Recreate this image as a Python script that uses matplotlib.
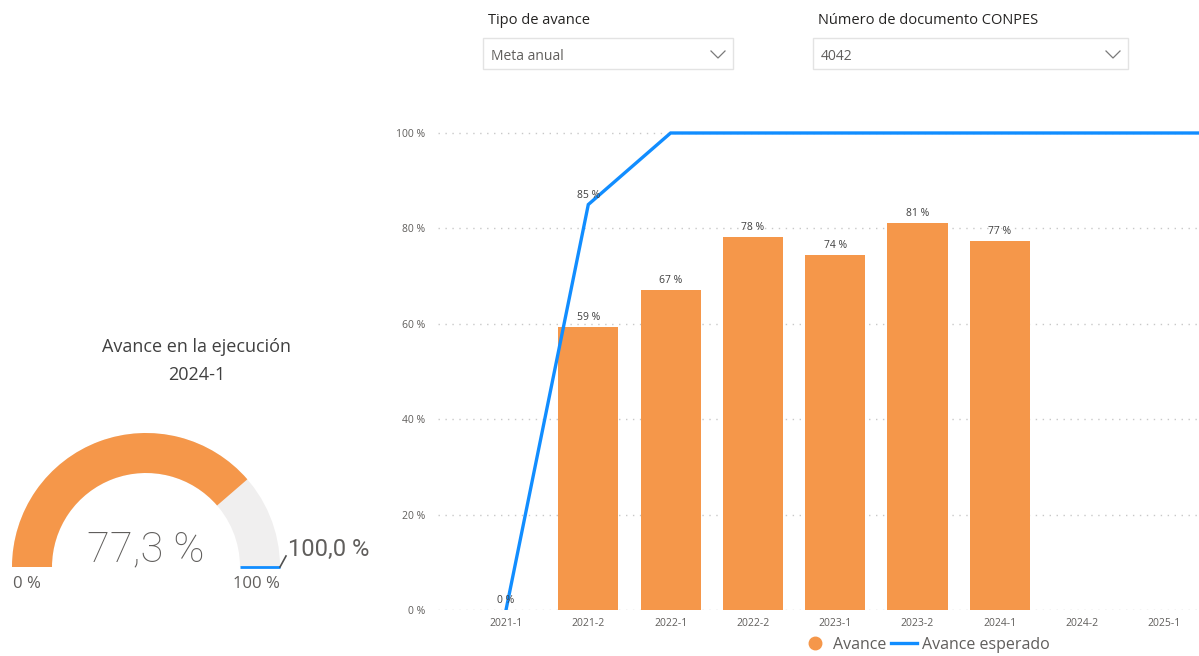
import matplotlib
matplotlib.use("Agg")
import matplotlib.pyplot as plt
from matplotlib.patches import Wedge, Rectangle
from matplotlib.lines import Line2D
import numpy as np

# data
periodos = ["2021-1", "2021-2", "2022-1", "2022-2", "2023-1", "2023-2", "2024-1", "2024-2", "2025-1", "2025-2"]
avance = [None, 59.3, 67.1, 78.2, 74.4, 81.1, 77.4, None, None, None]
avance_esperado = [0, 85, 100, 100, 100, 100, 100, 100, 100, 100]
etiquetas_esperado = ["0 %", "85 %"]  # only the first two points are labelled
gauge_valor = 77.3
gauge_min = 0
gauge_max = 100
gauge_meta = 100
gauge_periodo = "2024-1"

ORANGE = "#F5974A"
BLUE = "#118DFF"
GREY_TXT = "#605E5C"
DARK_TXT = "#252423"

plt.rcParams["font.family"] = ["Open Sans", "DejaVu Sans"]

W, H = 1199, 656
fig = plt.figure(figsize=(W / 100, H / 100), dpi=100)

# background axes in pixel units (y measured from the top)
bg = fig.add_axes([0, 0, 1, 1])
bg.set_xlim(0, W)
bg.set_ylim(0, H)
bg.axis("off")

def py(y):
    return H - y

# --- slicers at the top ---
def slicer(x0, x1, titulo, valor):
    bg.text(x0 + 5, py(21), titulo, fontsize=10.5, color=DARK_TXT, va="center", ha="left")
    bg.add_patch(Rectangle((x0, py(69)), x1 - x0, 31, facecolor="white", edgecolor="#E3E3E3", lw=1))
    bg.text(x0 + 8, py(56), valor, fontsize=10, color=GREY_TXT, va="center", ha="left")
    cx = x1 - 15
    bg.plot([cx - 7, cx, cx + 7], [py(51), py(58), py(51)], color="#7A7A7A", lw=0.9)

slicer(483, 733, "Tipo de avance", "Meta anual")
slicer(813, 1128, "Número de documento CONPES", "4042")

# --- gauge ---
cx, cy = 146, 567
r_out, r_in = 134, 94
ang = 180 - (gauge_valor - gauge_min) / (gauge_max - gauge_min) * 180
bg.add_patch(Wedge((cx, py(cy)), r_out, 0, 180, width=r_out - r_in, facecolor="#F0EFEF", edgecolor="none"))
bg.add_patch(Wedge((cx, py(cy)), r_out, ang, 180, width=r_out - r_in, facecolor=ORANGE, edgecolor="none"))
meta_ang = 180 - (gauge_meta - gauge_min) / (gauge_max - gauge_min) * 180
t = np.deg2rad(meta_ang)
bg.plot([cx + r_in * np.cos(t), cx + r_out * np.cos(t)],
        [py(cy) + r_in * np.sin(t), py(cy) + r_out * np.sin(t)], color=BLUE, lw=2, solid_capstyle="butt")
bg.plot([cx + r_out, cx + r_out + 6], [py(cy), py(cy) + 11], color="#505050", lw=1.2)
bg.text(cx + r_out + 8, py(cy) + 11, f"{gauge_meta:.1f} %".replace(".", ","), fontsize=17,
        color=GREY_TXT, ha="left", va="baseline", family=["Roboto", "DejaVu Sans"])
bg.text(cx, py(cy) + 6, f"{gauge_valor:.1f} %".replace(".", ","), fontsize=30, color=GREY_TXT,
        ha="center", va="baseline", family=["Roboto", "DejaVu Sans"], fontweight="light")
bg.text(13, py(584), f"{gauge_min} %", fontsize=12, color=GREY_TXT, ha="left", va="center")
bg.text(cx + 110, py(584), f"{gauge_max} %", fontsize=12, color=GREY_TXT, ha="center", va="center")
bg.text(197, py(347), "Avance en la ejecución", fontsize=13, color="#404040", ha="center", va="center")
bg.text(197, py(375), gauge_periodo, fontsize=13, color="#404040", ha="center", va="center")

# --- combo chart ---
px_per_cat = 82.3
x0_px = 506
left_px, right_px = 438, W
bottom_px, top_px = 610, 109
ax = fig.add_axes([left_px / W, (H - bottom_px) / H, (right_px - left_px) / W, (bottom_px - top_px) / H])
xs = np.arange(len(periodos))
bar_x = [x for x, v in zip(xs, avance) if v is not None]
bar_v = [v for v in avance if v is not None]
ax.bar(bar_x, bar_v, width=0.73, color=ORANGE, zorder=2)
for x, v in zip(bar_x, bar_v):
    ax.text(x, v + 0.8, f"{round(v)} %", ha="center", va="bottom", fontsize=7.5, color="#404040")
ax.plot(xs, avance_esperado, color=BLUE, lw=2.4, zorder=3, solid_joinstyle="miter")
for x, lab, v in zip(xs, etiquetas_esperado, avance_esperado):
    ax.text(x, v + 0.8, lab, ha="center", va="bottom", fontsize=7.5, color="#404040", zorder=4)

ax.set_yticks([0, 20, 40, 60, 80, 100])
ax.set_yticklabels([f"{v} %" for v in [0, 20, 40, 60, 80, 100]])
ax.set_xticks(xs)
ax.set_xticklabels(periodos)
ax.set_xlim((left_px - x0_px) / px_per_cat, (right_px - x0_px) / px_per_cat)
ax.set_ylim(0, (bottom_px - top_px) / 4.77)
ax.tick_params(axis="both", length=0, labelsize=7.5, colors=GREY_TXT)
ax.tick_params(axis="y", pad=9)
ax.tick_params(axis="x", pad=6)
ax.yaxis.grid(True, linestyle=(0, (1, 4)), color="#C8C8C8", lw=1)
ax.set_axisbelow(True)
for s in ax.spines.values():
    s.set_visible(False)
ax.patch.set_alpha(0)

handles = [Line2D([], [], marker="o", color=ORANGE, linestyle="none", markersize=9),
           Line2D([], [], color=BLUE, lw=2.4)]
fig.legend(handles, ["Avance", "Avance esperado"], loc="center", bbox_to_anchor=(926 / W, (H - 645) / H),
           ncol=2, frameon=False, fontsize=11.5, handlelength=1.6, handletextpad=0.3, columnspacing=0.3,
           labelcolor=GREY_TXT)

fig.savefig("out.png", dpi=100)
